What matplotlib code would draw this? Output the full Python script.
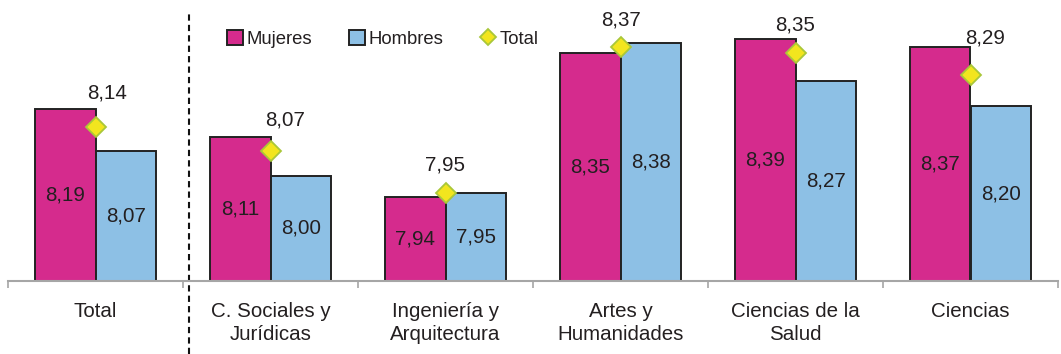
import matplotlib
matplotlib.use('Agg')
import matplotlib.pyplot as plt
import numpy as np

plt.rcParams['font.family'] = ['Liberation Sans', 'DejaVu Sans']

categorias = ['Total', 'C. Sociales y\nJurídicas', 'Ingeniería y\nArquitectura',
              'Artes y\nHumanidades', 'Ciencias de la\nSalud', 'Ciencias']
mujeres = [8.19, 8.11, 7.94, 8.35, 8.39, 8.37]
hombres = [8.07, 8.00, 7.95, 8.38, 8.27, 8.20]
total = [8.14, 8.07, 7.95, 8.37, 8.35, 8.29]

col_m = '#D52B8D'
col_h = '#8DC0E5'
col_txt = '#231F20'
# desplazamiento (px) de la etiqueta del total respecto al rombo
lbl_dx = [12, 15, 0, 0, 0, 15]
lbl_dy = [34, 31, 28, 26, 28, 36]

fig = plt.figure(figsize=(10.61, 3.54), dpi=100)
ax1 = fig.add_axes([8/1061, 73/354, 1050/1061, 281/354])

x = np.arange(len(categorias))
w = 0.348
bm = ax1.bar(x - w/2, mujeres, w, color=col_m, edgecolor='#222222', linewidth=1.4,
             label='Mujeres', zorder=2)
bh = ax1.bar(x + w/2, hombres, w, color=col_h, edgecolor='#222222', linewidth=1.4,
             label='Hombres', zorder=2)
ln, = ax1.plot(x, total, linestyle='none', marker='D', markersize=10, color='#F2E51E',
               markeredgecolor='#A9C73A', markeredgewidth=1.3, label='Total', zorder=3)

ymin = 7.70
ax1.set_ylim(ymin, ymin + 281/350.)
ax1.set_xlim(-0.5, 5.5)

fs = 14.8
for i in range(len(categorias)):
    ax1.text(x[i] - w/2, (ymin + mujeres[i])/2, f'{mujeres[i]:.2f}'.replace('.', ','),
             ha='center', va='center', fontsize=fs, color=col_txt)
    ax1.text(x[i] + w/2, (ymin + hombres[i])/2, f'{hombres[i]:.2f}'.replace('.', ','),
             ha='center', va='center', fontsize=fs, color=col_txt)
    ax1.annotate(f'{total[i]:.2f}'.replace('.', ','), (x[i], total[i]),
                 xytext=(lbl_dx[i]*0.72, lbl_dy[i]*0.72), textcoords='offset points',
                 ha='center', va='center', fontsize=fs, color=col_txt)

for s in ['top', 'right', 'left']:
    ax1.spines[s].set_visible(False)
ax1.spines['bottom'].set_color('#A6A6A6')
ax1.spines['bottom'].set_linewidth(1.5)
ax1.set_yticks([])
ax1.set_xticks(x)
ax1.set_xticklabels(categorias, fontsize=fs, color=col_txt, linespacing=1.3)
ax1.tick_params(axis='x', which='major', length=0, pad=15)
ax1.set_xticks(np.arange(-0.5, 6, 1), minor=True)
ax1.tick_params(axis='x', which='minor', length=5, width=1.2, color='#A6A6A6', direction='out')

# linea discontinua separando el total
ax1.plot([0.534, 0.534], [-0.26, 0.96], color='#111111', linestyle=(0, (3, 2)),
         linewidth=1.5, transform=ax1.get_xaxis_transform(), clip_on=False)

leg = ax1.legend([bm, bh, ln], ['Mujeres', 'Hombres', 'Total'], loc='center',
                 bbox_to_anchor=(375/1050, 1 - 39/281), ncol=3, frameon=False,
                 fontsize=13.3, handlelength=0.85, handleheight=0.9, handletextpad=0.2,
                 columnspacing=2.0, borderpad=0, markerscale=0.8)
for t in leg.get_texts():
    t.set_color(col_txt)

plt.savefig('out.png', dpi=100)
plt.close()
